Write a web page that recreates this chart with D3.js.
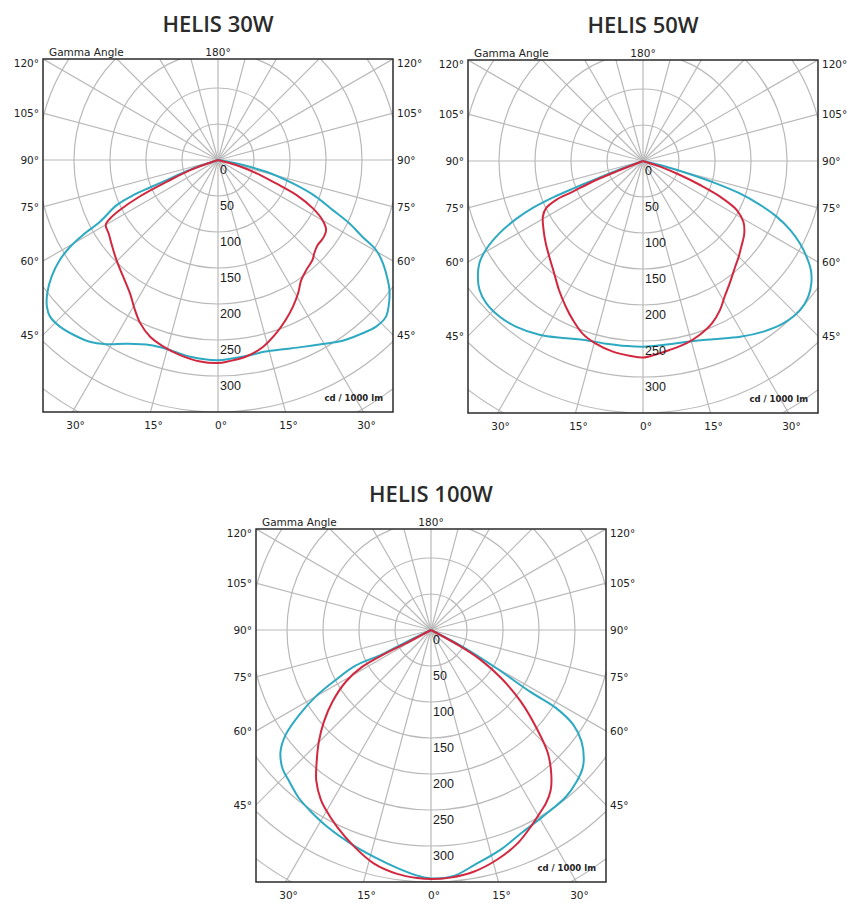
<!DOCTYPE html>
<html>
<head>
<meta charset="utf-8">
<script src="https://cdn.jsdelivr.net/npm/d3@7"></script>
<style>
  body { margin: 0; background: #fff; }
  svg { display: block; }
</style>
</head>
<body>
<svg width="847" height="903"></svg>
<script>
// gamma angle (deg, negative = left half) and intensity (cd / 1000 lm)
const titles = ["HELIS 30W", "HELIS 50W", "HELIS 100W"];
const ringTicks = [0, 50, 100, 150, 200, 250, 300];
const sideTicks = [120, 105, 90, 75, 60, 45];
const bottomTicks = [-30, -15, 0, 15, 30];

const cyan30 = [[-90,0],[-71,40],[-69,66],[-68,102],[-67.5,126],[-66,154],[-62.4,185],[-61,214],[-59.6,238],[-57.7,260],[-55,282],[-52,301],[-49.4,313],[-47,319],[-43.5,319],[-39.6,315],[-35.2,309],[-31.2,299],[-26.4,285],[-20.3,274],[-15,272],[-8,276],[0,278],[8,275],[14,274],[19,278],[24.4,285],[29.6,294],[34.6,305],[39,312],[43.5,319],[47,319],[50,310],[52.8,299],[54.7,289],[58,270],[60.3,253],[62,227],[64.3,202],[66.4,174],[69.5,145],[72.6,109],[76.3,69],[79.5,25],[90,0]];
const red30 = [[-90,0],[-70,41],[-67,77],[-65,120],[-63,153],[-61.6,170],[-60,180],[-56,183],[-52,188],[-45.4,198],[-39,209],[-33.4,222],[-29,238],[-25.5,251],[-21,263],[-16.3,270],[-11,276],[-5,281],[0,282],[3,280],[8,276],[13.5,267],[18.5,254],[23,241],[27,229],[31,216],[34.7,203],[38.7,196],[43.4,191],[46,186],[49.5,182],[53,182],[57,179],[60,168],[63,148],[66,119],[68,87],[71,56],[74.5,26],[90,0]];

const cyan50 = [[-90,0],[-70,40],[-69,74],[-68.5,103],[-68,133],[-67,165],[-65.5,193],[-63.3,223],[-60.5,251],[-58,268],[-55,280],[-51.8,289],[-47.8,294],[-42.7,294],[-37.5,290],[-30.8,281],[-24.4,270],[-18.7,262],[-12,259],[-5,258],[0,258],[7.4,257],[14.6,259],[21.5,266],[28.9,279],[35.2,290],[40.8,298],[46.5,301],[50.6,297],[54,289],[57,278],[59.7,263],[62.3,246],[64.9,226],[67.4,201],[69.5,173],[71.5,141],[73,105],[74.5,66],[76,33],[90,0]];
const red50 = [[-90,0],[-68.4,40],[-67.7,76],[-66.4,107],[-65.9,132],[-64,150],[-61,159],[-55.3,168],[-49.7,177],[-44.4,186],[-38.3,199],[-33,214],[-27.9,229],[-23.9,241],[-19.3,254],[-14.5,262],[-9,268],[-4,271],[0,273],[4,269],[8,265],[13.5,260],[18,254],[23,245],[27.3,233],[31,220],[35.4,208],[41,195],[45,188],[49,181],[54.4,173],[58.8,163],[62.4,147],[65.2,118],[67.2,86],[69.3,55],[71.6,25],[90,0]];

const cyan100 = [[-90,0],[-64,40],[-63.5,76],[-64.7,116],[-62.3,150],[-60,185],[-57.2,218],[-54.2,249],[-51,269],[-47,282],[-43.1,288],[-38.1,297],[-33.8,302],[-27.8,309],[-20.6,317],[-14.1,325],[-8,334],[-3,342],[0,345],[5.3,343],[10.4,332],[17.6,320],[23.8,309],[31,302],[38.9,298],[43.8,292],[47.6,285],[50,277],[53.5,260],[56.3,238],[58,206],[58.1,162],[59.7,106],[62,50],[90,0]];
const red100 = [[-90,0],[-62,35],[-62.8,71],[-61.9,108],[-58.8,138],[-54,169],[-49.4,196],[-45.1,220],[-41,242],[-37.3,263],[-33,281],[-30.8,288],[-25.5,303],[-19.6,319],[-13.7,334],[-7.9,342],[-3.2,345],[0,346],[4.5,345],[10,341],[16,332],[22,320],[27,306],[31.4,294],[33.5,289],[36.7,278],[39.8,261],[43.6,235],[47.1,200],[51.4,160],[55.6,118],[59,80],[61,45],[90,0]];

const svg = d3.select("svg");
svg.append("rect").attr("width", 847).attr("height", 903).attr("fill", "#fff");

const charts = [
  { title: titles[0], cx: 218, cy: 160, cyan: cyan30, red: red30 },
  { title: titles[1], cx: 643, cy: 161, cyan: cyan50, red: red50 },
  { title: titles[2], cx: 431, cy: 630, cyan: cyan100, red: red100 }
];

// 50 cd per ring, 36px between rings
const r = d3.scaleLinear().domain([0, 50]).range([0, 36]);
const halfW = 175, up = 101, down = 252;
const rad = d => d * Math.PI / 180;

const polar = d3.lineRadial()
  .angle(d => Math.PI - rad(d[0]))
  .radius(d => r(d[1]))
  .curve(d3.curveCatmullRom.alpha(0.5));
const spoke = d3.lineRadial()
  .angle(d => Math.PI - rad(d[0]))
  .radius(d => r(d[1]));

const gridColor = "#b9b9b9";

charts.forEach((c, i) => {
  const g = svg.append("g").attr("transform", `translate(${c.cx},${c.cy})`);
  const clipId = "clip" + i;
  g.append("clipPath").attr("id", clipId)
    .append("rect")
    .attr("x", -halfW).attr("y", -up)
    .attr("width", halfW * 2).attr("height", up + down);

  const plot = g.append("g").attr("clip-path", `url(#${clipId})`);

  // rings
  plot.selectAll(".ring")
    .data(d3.range(50, 701, 50))
    .enter().append("circle")
    .attr("r", d => r(d))
    .attr("fill", "none")
    .attr("stroke", gridColor)
    .attr("stroke-width", 1.2);

  // spokes every 15°
  plot.selectAll(".spoke")
    .data(d3.range(0, 360, 15))
    .enter().append("path")
    .attr("d", a => spoke([[a, 0], [a, 700]]))
    .attr("stroke", gridColor)
    .attr("stroke-width", 1.2);

  // curves
  plot.append("path")
    .attr("d", polar(c.cyan))
    .attr("fill", "none")
    .attr("stroke", "#2ea9c2")
    .attr("stroke-width", 2)
    .attr("stroke-linejoin", "round");
  plot.append("path")
    .attr("d", polar(c.red))
    .attr("fill", "none")
    .attr("stroke", "#d2283f")
    .attr("stroke-width", 2)
    .attr("stroke-linejoin", "round");

  // frame
  g.append("rect")
    .attr("x", -halfW).attr("y", -up)
    .attr("width", halfW * 2).attr("height", up + down)
    .attr("fill", "none")
    .attr("stroke", "#2a2a2a")
    .attr("stroke-width", 1.5);

  // ring values
  g.selectAll(".rv")
    .data(ringTicks)
    .enter().append("text")
    .attr("x", 2)
    .attr("y", d => r(d) + 13.5)
    .attr("font-family", "Liberation Sans, Arial, sans-serif")
    .attr("font-size", 12.5)
    .attr("fill", "#1a1a1a")
    .text(d => d);

  // side labels
  const sideY = a => halfW / Math.tan(rad(a));
  const lab = (sel) => sel
    .attr("font-family", "DejaVu Sans, sans-serif")
    .attr("font-size", 10.5)
    .attr("fill", "#222");

  g.selectAll(".ls")
    .data(sideTicks)
    .enter().append("text")
    .attr("x", -halfW - 4)
    .attr("y", a => Math.max(-up + 4, sideY(a)) + 4)
    .attr("text-anchor", "end")
    .call(lab)
    .text(a => a + "°");
  g.selectAll(".rs")
    .data(sideTicks)
    .enter().append("text")
    .attr("x", halfW + 4)
    .attr("y", a => Math.max(-up + 4, sideY(a)) + 4)
    .call(lab)
    .text(a => a + "°");

  g.selectAll(".bt")
    .data(bottomTicks)
    .enter().append("text")
    .attr("x", a => down * Math.tan(rad(a)) + 3)
    .attr("y", down + 17)
    .attr("text-anchor", "middle")
    .call(lab)
    .text(a => Math.abs(a) + "°");

  g.append("text")
    .attr("x", 0).attr("y", -up - 3)
    .attr("text-anchor", "middle")
    .call(lab)
    .text("180°");
  g.append("text")
    .attr("x", -halfW + 6).attr("y", -up - 3)
    .call(lab)
    .text("Gamma Angle");

  g.append("text")
    .attr("x", halfW - 10).attr("y", down - 11)
    .attr("text-anchor", "end")
    .attr("font-family", "DejaVu Sans, sans-serif")
    .attr("font-weight", "bold")
    .attr("font-size", 8.5)
    .attr("fill", "#222")
    .text("cd / 1000 lm");

  svg.append("text")
    .attr("x", c.cx).attr("y", c.cy - 128)
    .attr("text-anchor", "middle")
    .attr("font-family", "Open Sans, sans-serif")
    .attr("font-weight", 600)
    .attr("font-size", 22)
    .attr("fill", "#2b2b2b")
    .text(c.title);
});
</script>
</body>
</html>
